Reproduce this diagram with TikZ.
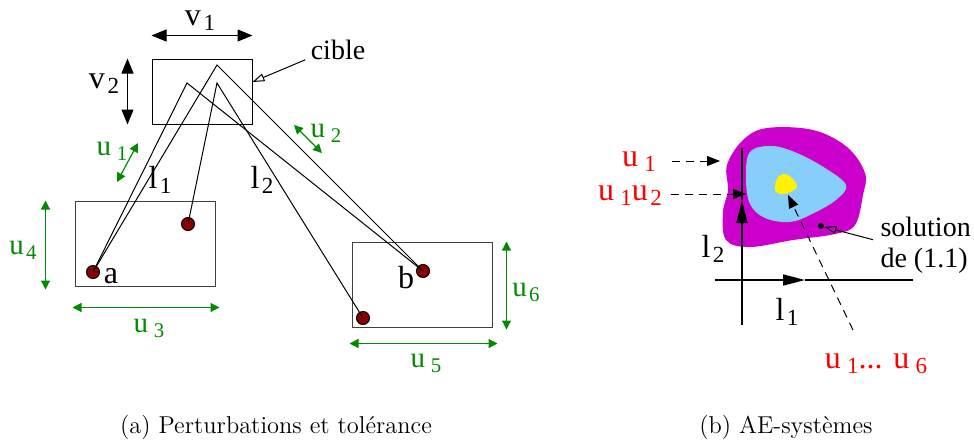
\documentclass[tikz,border=0pt]{standalone}
\usepackage{fontspec}
\newfontfamily\figfont{Liberation Serif}
\usetikzlibrary{arrows.meta}

\definecolor{tolgreen}{RGB}{0,140,0}
\definecolor{blobmagenta}{RGB}{204,0,204}
\definecolor{blobblue}{RGB}{135,206,250}
\definecolor{pinred}{RGB}{140,0,0}

\makeatletter
\newcommand{\idx}[2]{#1\kern0.08em\raisebox{-0.4ex}{\fontsize{\fpeval{0.72*\f@size}}{0}\selectfont #2}}
\makeatother

\begin{document}
\begin{tikzpicture}[x=0.5pt, y=-0.5pt, line width=0.5pt,
    lbl/.style={font=\figfont\fontsize{16}{18}\selectfont, inner sep=0pt, anchor=base},
    tollbl/.style={lbl, tolgreen, font=\figfont\fontsize{14.5}{16}\selectfont},
    word/.style={font=\figfont\fontsize{14}{15.5}\selectfont, inner sep=0pt, align=left},
    field/.style={draw=black!75, minimum width=70pt, minimum height=42.5pt, inner sep=0pt},
    pin/.style={circle, draw=black, fill=pinred, minimum size=6.5pt, inner sep=0pt},
    dim/.style={{Triangle[length=7.5pt,width=6pt]}-{Triangle[length=7.5pt,width=6pt]}},
    tol/.style={tolgreen, line width=0.6pt, {Triangle[length=4.5pt,width=4.5pt]}-{Triangle[length=4.5pt,width=4.5pt]}},
    hint/.style={-{Triangle[open, length=6pt, width=4pt]}},
    probe/.style={dashed, dash pattern=on 4pt off 3pt, -{Triangle[length=6.5pt,width=5pt]}},
    axis/.style={line width=0.8pt},
    caption/.style={font=\fontsize{12.2}{14}\selectfont, inner sep=0pt, anchor=base}]
    \useasboundingbox (0,0) rectangle (974,445);

    % (a) Nodes
    \node[draw, minimum width=50pt, minimum height=32.5pt, inner sep=0pt] (target) at (202,91.5) {};
    \node[field] (fielda) at (145,243.5) {};
    \node[field] (fieldb) at (422,284.5) {};
    \node[word, anchor=base] (cible) at (338,59) {cible};
    \coordinate (apexA) at (217,65);
    \coordinate (apexB) at (187,83);
    \coordinate (apexC) at (217,83);
    \node[pin] (pa) at (93,272) {};
    \node[pin] (pm) at (188,224) {};
    \node[pin] (pb) at (423,271) {};
    \node[pin] (pn) at (363,318) {};
    \node[lbl] (la) at (111,283) {a};
    \node[lbl] (lb) at (406,288) {b};
    \node[lbl] (ll1) at (160,188) {\idx{l}{1}};
    \node[lbl] (ll2) at (262,188) {\idx{l}{2}};
    \node[lbl] (lv1) at (200,25) {\idx{v}{1}};
    \node[lbl] (lv2) at (104,88) {\idx{v}{2}};

    % (a) Rays
    \draw (pa.center) -- (apexB) -- (pb.center);
    \draw (pa.center) -- (apexA) -- (pb.center);
    \draw (pm.center) -- (apexC) -- (pn.center);
    \draw[hint] ([xshift=-2.5pt]cible.south west) -- ([yshift=4.75pt]target.east);

    % (a) Tolerances
    \draw[dim] ([yshift=11.5pt]target.north west) -- ([yshift=11.5pt]target.north east);
    \draw[dim] ([xshift=-12pt]target.north west) -- ([xshift=-12pt]target.south west);
    \coordinate (u1s) at (117,182);
    \coordinate (u1e) at (138,143);
    \coordinate (u2s) at (294,125);
    \coordinate (u2e) at (322,153);
    \draw[tol] (u1s) -- (u1e);
    \draw[tol] (u2s) -- (u2e);
    \draw[tol] ([xshift=-14.5pt]fielda.north west) -- ([shift={(-14.5pt,-1.5pt)}]fielda.south west);
    \draw[tol] ([shift={(-1pt,-10.5pt)}]fielda.south west) -- ([shift={(2pt,-10.5pt)}]fielda.south east);
    \draw[tol] ([xshift=7pt]fieldb.north east) -- ([shift={(7pt,-1pt)}]fieldb.south east);
    \draw[tol] ([shift={(-1pt,-8pt)}]fieldb.south west) -- ([shift={(2.5pt,-8pt)}]fieldb.south east);
    \node[tollbl] (lu1) at (112,155) {\idx{u}{\,1}};
    \node[tollbl] (lu2) at (326,137) {\idx{u}{\,2}};
    \node[tollbl] (lu3) at (149,332) {\idx{u}{\,3}};
    \node[tollbl] (lu4) at (23,254) {\idx{u}{4}};
    \node[tollbl] (lu5) at (426,367) {\idx{u}{\,5}};
    \node[tollbl] (lu6) at (526,296) {\idx{u}{6}};

    % (b) Solution sets
    \fill[blobmagenta] plot[smooth cycle, tension=0.6] coordinates {(743,140) (767,128) (813,130) (847,147) (865,173) (863,195) (855,225) (835,234) (793,240) (750,247) (726,240) (723,212) (728,190) (727,165)};
    \fill[blobblue] plot[smooth cycle, tension=0.6] coordinates {(750,152) (772,146) (797,153) (825,168) (846,185) (836,200) (812,214) (790,222) (765,218) (750,204) (746,178)};
    \fill[yellow] plot[smooth cycle, tension=0.7] coordinates {(775,186) (779,176) (788,175) (797,186) (788,193) (777,193)};

    % (b) Axes
    \coordinate (ybot) at (742,325);
    \coordinate (ymid) at (742,200);
    \coordinate (ytop) at (742,148);
    \coordinate (xlft) at (715,280);
    \coordinate (xmid) at (805,280);
    \coordinate (xrgt) at (913,280);
    \draw[axis, -{Triangle[length=11.5pt,width=5.5pt]}] (ybot) -- (ymid);
    \draw[axis] (ymid) -- (ytop);
    \draw[axis, -{Triangle[length=11pt,width=5.5pt]}] (xlft) -- (xmid);
    \draw[axis] (xmid) -- (xrgt);
    \node[lbl] (bl2) at (713,257) {\idx{l}{2}};
    \node[lbl] (bl1) at (787,320) {\idx{l}{1}};

    % (b) Parameters
    \node[lbl, red] (pu1) at (639,166) {\idx{u}{\,1}};
    \node[lbl, red] (pu12) at (630,200) {\idx{u}{\,1}\idx{u}{2}};
    \node[lbl, red] (pu16) at (876,368) {\idx{u}{\,1}... \idx{u}{\,6}};
    \coordinate (t1) at (720,161);
    \coordinate (t12) at (746,194);
    \coordinate (s16) at (853,330);
    \coordinate (t16) at (788,195);
    \draw[probe] ([xshift=8pt]pu1.east |- t1) -- (t1);
    \draw[probe] ([xshift=4pt]pu12.east |- t12) -- (t12);
    \draw[probe] (s16) -- (t16);

    % (b) Solution
    \node[circle, fill=black, minimum size=3pt, inner sep=0pt] (sol) at (821,226) {};
    \node[word, anchor=north west] (soltext) at (880,217) {solution\\de (1.1)};
    \draw[hint] ([shift={(-3.5pt,3pt)}]soltext.west) -- (sol);

    % Captions
    \node[caption] (capa) at (276,433) {(a) Perturbations et tolérance};
    \node[caption] (capb) at (786,433) {(b) AE-systèmes};
\end{tikzpicture}
\end{document}
